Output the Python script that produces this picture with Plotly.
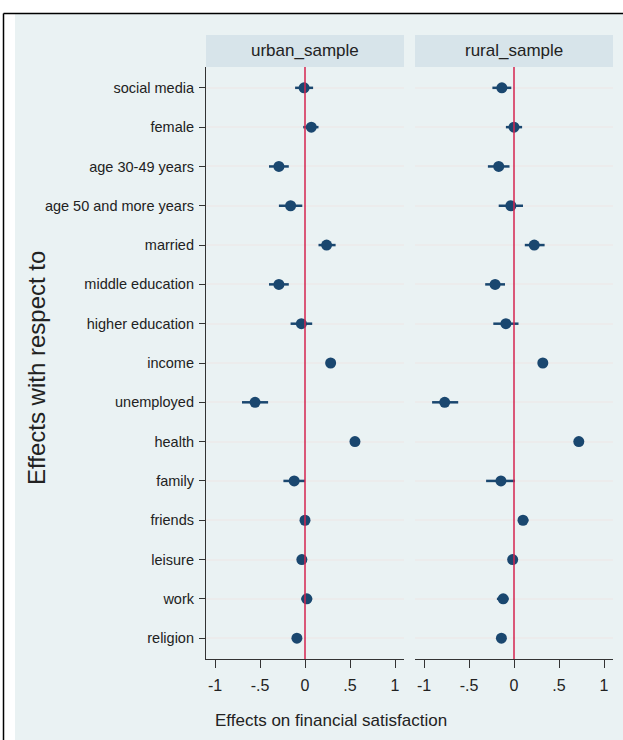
import plotly.graph_objects as go

categories = ["social media", "female", "age 30-49 years", "age 50 and more years",
              "married", "middle education", "higher education", "income",
              "unemployed", "health", "family", "friends", "leisure", "work", "religion"]

urban_coef = [-0.01, 0.07, -0.29, -0.16, 0.24, -0.29, -0.04, 0.285, -0.555, 0.555,
              -0.12, 0.00, -0.035, 0.02, -0.09]
urban_lo = [-0.11, -0.02, -0.40, -0.29, 0.15, -0.40, -0.16, 0.25, -0.70, 0.525,
            -0.24, -0.03, -0.06, -0.04, -0.11]
urban_hi = [0.09, 0.15, -0.18, -0.03, 0.34, -0.18, 0.08, 0.32, -0.41, 0.585,
            0.00, 0.03, -0.01, 0.08, -0.07]

rural_coef = [-0.135, 0.00, -0.17, -0.035, 0.225, -0.21, -0.09, 0.32, -0.77, 0.72,
              -0.145, 0.10, -0.015, -0.12, -0.14]
rural_lo = [-0.24, -0.09, -0.29, -0.17, 0.12, -0.32, -0.23, 0.29, -0.91, 0.69,
            -0.31, 0.05, -0.04, -0.19, -0.18]
rural_hi = [-0.03, 0.09, -0.05, 0.10, 0.34, -0.10, 0.05, 0.35, -0.62, 0.75,
            0.01, 0.16, 0.01, -0.06, -0.10]

panel_titles = ["urban_sample", "rural_sample"]
x_tickvals = [-1, -0.5, 0, 0.5, 1]
x_ticktext = ["-1", "-.5", "0", ".5", "1"]

W, H = 623, 740
NAVY = "#1a476f"
BG = "#eaf2f3"
HEAD = "#d7e4ea"
RED = "#d4234f"
FONT = "Liberation Sans, Arial, sans-serif"
TXT = "#222222"

def px(x):
    return x / W

def py(y):
    return (H - y) / H

fig = go.Figure()

series = [(urban_coef, urban_lo, urban_hi, "x", "y"),
          (rural_coef, rural_lo, rural_hi, "x2", "y2")]
for coef, lo, hi, xa, ya in series:
    fig.add_trace(go.Scatter(
        x=coef, y=categories, mode="markers",
        xaxis=xa, yaxis=ya,
        marker=dict(color=NAVY, size=11),
        error_x=dict(type="data", symmetric=False,
                     array=[h - c for h, c in zip(hi, coef)],
                     arrayminus=[c - l for c, l in zip(coef, lo)],
                     color=NAVY, thickness=2.5, width=0),
        showlegend=False, hoverinfo="skip"))

x_dom1 = [px(206), px(404)]
x_dom2 = [px(415), px(613)]
y_dom = [py(659), py(67)]

common_x = dict(range=[-1.1, 1.1], tickvals=x_tickvals, ticktext=x_ticktext,
                showgrid=False, zeroline=False, showline=True, linecolor="#333333",
                linewidth=1.2, ticks="outside", ticklen=8, tickcolor="#333333",
                tickwidth=1.2, tickfont=dict(family=FONT, size=16, color=TXT),
                ticklabelstandoff=4, fixedrange=True)
common_y = dict(type="category", categoryorder="array", categoryarray=categories,
                range=[14.53, -0.53], showgrid=True, gridcolor="#ececec", gridwidth=2,
                zeroline=False, fixedrange=True)

fig.update_layout(
    width=W, height=H,
    margin=dict(l=0, r=0, t=0, b=0),
    paper_bgcolor="white", plot_bgcolor="white",
    xaxis=dict(domain=x_dom1, anchor="y", **common_x),
    xaxis2=dict(domain=x_dom2, anchor="y2", **common_x),
    yaxis=dict(domain=y_dom, anchor="x", showline=True, linecolor="#333333", linewidth=1.2,
               ticks="outside", ticklen=6, tickcolor="#333333", tickwidth=1.2,
               tickfont=dict(family=FONT, size=14.5, color=TXT),
               ticklabelstandoff=2, **common_y),
    yaxis2=dict(domain=y_dom, anchor="x2", showline=False, showticklabels=False,
                ticks="", **common_y),
)

shapes = []
# outer background and frame
shapes.append(dict(type="rect", xref="paper", yref="paper", x0=px(15), x1=1.0,
                   y0=0, y1=py(14), fillcolor=BG, line=dict(width=0), layer="below"))
shapes.append(dict(type="line", xref="paper", yref="paper", x0=px(3.5), x1=1.0,
                   y0=py(13.5), y1=py(13.5), line=dict(color="black", width=1.5)))
shapes.append(dict(type="line", xref="paper", yref="paper", x0=px(3.5), x1=px(3.5),
                   y0=0, y1=py(13.5), line=dict(color="black", width=1.5)))
# headers
for (x0, x1), title in zip([x_dom1, x_dom2], panel_titles):
    shapes.append(dict(type="rect", xref="paper", yref="paper", x0=x0, x1=x1,
                       y0=py(67), y1=py(35), fillcolor=HEAD, line=dict(width=0),
                       layer="below"))
    fig.add_annotation(x=(x0 + x1) / 2, y=py(51), xref="paper", yref="paper",
                       xanchor="center", yanchor="middle",
                       text=title, showarrow=False,
                       font=dict(family=FONT, size=17, color=TXT))
# zero reference lines
for xa, ya in [("x", "y domain"), ("x2", "y2 domain")]:
    shapes.append(dict(type="line", xref=xa, yref=ya, x0=0, x1=0, y0=0, y1=1,
                       line=dict(color=RED, width=1.5), layer="above"))
fig.update_layout(shapes=shapes)

fig.add_annotation(x=px(36), y=py(368), xref="paper", yref="paper",
                   xanchor="center", yanchor="middle",
                   text="Effects with respect to", textangle=-90, showarrow=False,
                   font=dict(family=FONT, size=24, color=TXT))
fig.add_annotation(x=px(331), y=py(720), xref="paper", yref="paper",
                   xanchor="center", yanchor="middle",
                   text="Effects on financial satisfaction", showarrow=False,
                   font=dict(family=FONT, size=17, color=TXT))

fig.write_html("out.html", config={"displayModeBar": False},
               post_script="document.body.style.margin='0';")
